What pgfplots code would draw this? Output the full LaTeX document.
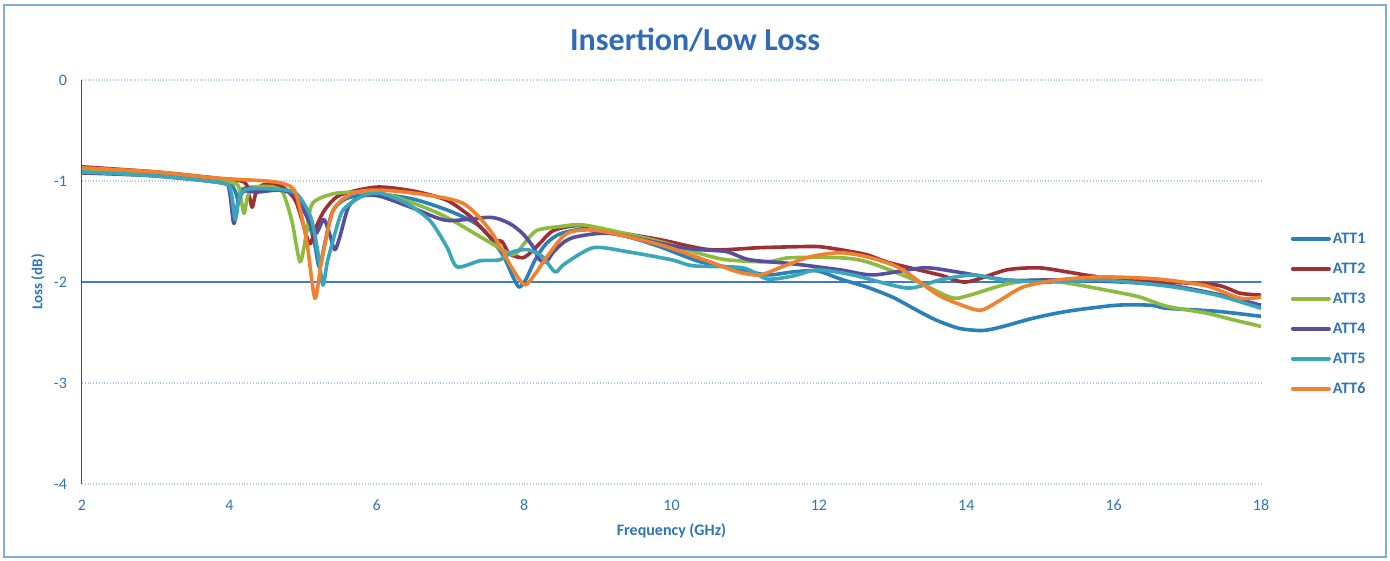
\documentclass[border=0pt]{standalone}
\usepackage{pgfplots}
\pgfplotsset{compat=1.18}
\usepackage{pgfplotstable}
\usepackage{fontspec}
\setmainfont{Carlito}
\definecolor{cA}{HTML}{2A80B9}
\definecolor{cB}{HTML}{9E2F35}
\definecolor{cC}{HTML}{8CBB3F}
\definecolor{cD}{HTML}{564E9E}
\definecolor{cE}{HTML}{3AA6B9}
\definecolor{cF}{HTML}{F0812E}
\definecolor{titleblue}{HTML}{2F6BB7}
\definecolor{labelblue}{HTML}{2E75B6}
\definecolor{gridblue}{HTML}{A9CCEA}
\definecolor{axisblue}{HTML}{3F7AD0}

\pgfplotstableread{
x y
2 -0.90
3 -0.94
3.8 -0.99
4.0 -1.02
4.08 -1.10
4.13 -1.22
4.18 -1.08
4.5 -1.06
4.8 -1.10
5.0 -1.25
5.15 -1.60
5.22 -1.85
5.3 -1.60
5.4 -1.30
5.6 -1.17
6.0 -1.13
6.5 -1.18
7.0 -1.30
7.4 -1.45
7.7 -1.72
7.85 -1.95
7.93 -2.05
8.02 -1.98
8.15 -1.78
8.3 -1.62
8.5 -1.52
8.9 -1.47
9.4 -1.55
9.84 -1.65
10.39 -1.80
10.9 -1.87
11.3 -1.93
11.65 -1.90
11.98 -1.89
12.29 -1.97
12.65 -2.05
13.0 -2.15
13.33 -2.28
13.6 -2.38
13.91 -2.46
14.23 -2.48
14.5 -2.44
14.9 -2.36
15.37 -2.29
16.04 -2.23
16.5 -2.23
16.72 -2.26
17.4 -2.29
18 -2.34
}\attA

\pgfplotstableread{
x y
2 -0.86
3 -0.91
3.8 -0.97
4.2 -1.01
4.27 -1.15
4.31 -1.26
4.36 -1.12
4.45 -1.04
4.7 -1.05
4.9 -1.20
5.05 -1.55
5.1 -1.62
5.18 -1.45
5.3 -1.28
5.5 -1.14
6.0 -1.06
6.5 -1.10
6.95 -1.19
7.27 -1.35
7.4 -1.45
7.58 -1.58
7.7 -1.60
7.8 -1.72
7.98 -1.76
8.1 -1.70
8.21 -1.62
8.4 -1.49
8.76 -1.44
9.2 -1.50
9.84 -1.58
10.52 -1.68
11.2 -1.66
11.74 -1.65
12.0 -1.65
12.29 -1.68
12.65 -1.73
12.96 -1.81
13.64 -1.93
14.0 -2.00
14.55 -1.88
14.99 -1.86
15.37 -1.90
15.81 -1.95
16.72 -2.00
17.4 -2.03
17.71 -2.11
18 -2.13
}\attB

\pgfplotstableread{
x y
2 -0.90
3 -0.94
3.8 -1.00
4.1 -1.03
4.15 -1.15
4.2 -1.32
4.25 -1.15
4.35 -1.06
4.6 -1.06
4.73 -1.12
4.85 -1.40
4.96 -1.80
5.05 -1.50
5.13 -1.22
5.46 -1.12
6.04 -1.12
6.5 -1.22
6.95 -1.36
7.54 -1.61
7.85 -1.73
8.0 -1.62
8.17 -1.49
8.5 -1.45
8.85 -1.44
9.84 -1.60
10.39 -1.72
10.75 -1.78
11.3 -1.80
11.6 -1.76
12.29 -1.76
12.65 -1.80
13.2 -1.95
13.78 -2.15
14.0 -2.14
14.55 -2.02
15.0 -1.98
15.37 -2.01
16.04 -2.10
16.36 -2.15
16.72 -2.24
17.27 -2.31
17.6 -2.37
18 -2.44
}\attC

\pgfplotstableread{
x y
2 -0.92
3 -0.95
3.9 -1.02
4.0 -1.10
4.06 -1.42
4.12 -1.20
4.2 -1.10
4.37 -1.11
4.69 -1.09
4.9 -1.15
5.05 -1.35
5.17 -1.52
5.28 -1.38
5.35 -1.50
5.43 -1.68
5.5 -1.55
5.62 -1.25
5.8 -1.15
6.04 -1.15
6.5 -1.27
6.95 -1.39
7.54 -1.36
7.8 -1.42
7.98 -1.52
8.12 -1.65
8.21 -1.78
8.3 -1.80
8.4 -1.70
8.55 -1.60
8.72 -1.55
9.17 -1.52
10.07 -1.65
10.39 -1.68
10.75 -1.70
11.06 -1.78
11.65 -1.82
12.29 -1.88
12.74 -1.93
13.42 -1.86
13.87 -1.90
14.55 -1.98
15.14 -1.98
15.81 -1.99
16.72 -2.03
17.4 -2.12
18 -2.23
}\attD

\pgfplotstableread{
x y
2 -0.91
3 -0.95
3.9 -1.02
4.02 -1.10
4.08 -1.38
4.14 -1.15
4.25 -1.08
4.6 -1.08
4.9 -1.12
5.1 -1.35
5.2 -1.70
5.27 -2.03
5.33 -1.80
5.46 -1.45
5.55 -1.28
5.8 -1.15
6.04 -1.12
6.4 -1.22
6.72 -1.39
6.95 -1.65
7.09 -1.85
7.4 -1.79
7.67 -1.78
7.85 -1.70
8.05 -1.68
8.25 -1.75
8.42 -1.90
8.55 -1.82
8.94 -1.66
9.4 -1.70
10.0 -1.78
10.3 -1.84
10.97 -1.86
11.3 -1.97
11.65 -1.94
11.98 -1.88
12.46 -1.93
13.2 -2.06
13.64 -1.98
14.09 -1.93
14.5 -1.98
15.14 -2.00
15.81 -1.98
16.72 -2.04
17.4 -2.13
18 -2.26
}\attE

\pgfplotstableread{
x y
2 -0.87
3 -0.91
3.8 -0.97
4.5 -1.00
4.75 -1.03
4.9 -1.12
5.05 -1.60
5.16 -2.16
5.25 -1.80
5.41 -1.29
5.68 -1.12
6.04 -1.09
6.6 -1.13
7.17 -1.22
7.54 -1.49
7.85 -1.88
8.01 -2.03
8.15 -1.92
8.31 -1.75
8.58 -1.52
8.99 -1.49
9.84 -1.63
10.52 -1.80
10.9 -1.90
11.2 -1.93
11.5 -1.85
11.88 -1.75
12.29 -1.71
12.65 -1.75
13.0 -1.83
13.2 -1.91
13.6 -2.12
13.87 -2.21
14.19 -2.28
14.46 -2.18
14.77 -2.05
15.23 -1.98
15.81 -1.95
16.36 -1.96
16.72 -1.98
17.27 -2.04
17.71 -2.16
18 -2.15
}\attF

\begin{document}
\begin{tikzpicture}
\useasboundingbox (-41pt,-38.5pt) rectangle (654pt,242pt);
\draw[color=labelblue!60, line width=0.8pt] (-39pt,-36.5pt) rectangle (652pt,239.5pt);
\begin{axis}[
  width=589.5pt, height=202pt, scale only axis,
  xmin=2, xmax=18, ymin=-4, ymax=0,
  xtick={2,4,...,18}, ytick={-4,-3,-2,-1,0},
  axis lines=left, axis line style={-},
  x axis line style={draw=none},
  y axis line style={draw=gray!60!black, line width=0.5pt},
  major tick length=0pt,
  ymajorgrids, grid style={densely dotted, color=gridblue, line width=0.7pt},
  /pgf/number format/assume math mode=true,
  tick label style={font=\fontsize{8}{9}\selectfont, color=labelblue},
  yticklabel style={xshift=-4pt},
  xticklabel style={yshift=-4.5pt},
  xlabel={Frequency (GHz)},
  ylabel={Loss (dB)},
  xlabel style={at={(axis description cs:0.5,0)}, anchor=center, yshift=-23.5pt, font=\bfseries\fontsize{8}{9}\selectfont, color=labelblue},
  ylabel style={at={(axis description cs:-0.0373,0.5)}, anchor=center, font=\bfseries\fontsize{7.5}{9}\selectfont, color=labelblue},
  title={Insertion/Low Loss},
  title style={at={(axis description cs:0.52,1.069)}, anchor=center, font=\bfseries\fontsize{16}{18}\selectfont, color=titleblue},
  legend style={draw=none, fill=none, at={(1.025,0.625)}, anchor=north west, inner sep=0pt,
    font=\bfseries\fontsize{8}{9}\selectfont, text=labelblue,
    nodes={inner xsep=1pt, inner ysep=0pt, text height=6pt, text depth=1pt}, row sep=8pt},
  legend cell align=left,
  legend image code/.code={\draw[#1, line width=2pt, line cap=round] (0pt,0pt) -- (18pt,0pt);},
  every axis plot/.append style={line width=1.8pt, smooth, tension=0.45, line join=round},
  clip=false,
]
\draw[axisblue, line width=0.8pt] (axis cs:2,-2) -- (axis cs:18,-2);
\addplot[cA] table {\attA};
\addplot[cB] table {\attB};
\addplot[cC] table {\attC};
\addplot[cD] table {\attD};
\addplot[cE] table {\attE};
\addplot[cF] table {\attF};
\legend{ATT1,ATT2,ATT3,ATT4,ATT5,ATT6}
\end{axis}
\end{tikzpicture}
\end{document}
